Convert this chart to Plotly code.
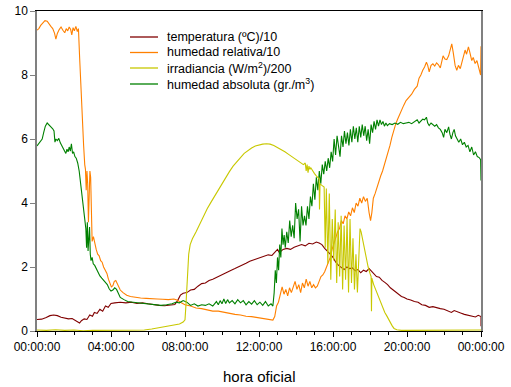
import plotly.graph_objects as go

# ---------------- data (hours of day, values) ----------------
tick_hours = [0, 4, 8, 12, 16, 20, 24]
tick_labels = ["00:00:00", "04:00:00", "08:00:00", "12:00:00", "16:00:00", "20:00:00", "00:00:00"]

temp_h = [0.00, 0.25, 0.50, 0.70, 0.90, 1.10, 1.30, 1.50, 1.70, 1.90, 2.05, 2.20, 2.30, 2.40, 2.55, 2.70, 2.85,
          3.00, 3.10, 3.25, 3.40, 3.55, 3.70, 3.85, 4.00, 4.20, 4.50, 4.80, 5.10, 5.40, 5.70, 6.00, 6.30, 6.60,
          6.90, 7.20, 7.45, 7.60, 7.75, 7.90, 8.10, 8.30, 8.50, 8.70, 8.90, 9.10, 9.30, 9.50, 9.70, 9.90, 10.10,
          10.30, 10.50, 10.70, 10.90, 11.10, 11.30, 11.50, 11.70, 11.90, 12.10, 12.30, 12.50, 12.70, 12.85, 13.00,
          13.10, 13.30, 13.50, 13.70, 13.90, 14.10, 14.30, 14.50, 14.70, 14.90, 15.10, 15.25, 15.40, 15.55, 15.70,
          15.85, 16.00, 16.15, 16.30, 16.45, 16.60, 16.75, 16.90, 17.05, 17.20, 17.35, 17.50, 17.65, 17.80, 17.95,
          18.05, 18.20, 18.35, 18.50, 18.65, 18.80, 18.95, 19.10, 19.25, 19.40, 19.55, 19.70, 19.85, 20.00, 20.20,
          20.40, 20.60, 20.80, 21.00, 21.20, 21.40, 21.60, 21.80, 22.00, 22.20, 22.40, 22.55, 22.70, 22.90, 23.10,
          23.30, 23.50, 23.70, 23.85, 23.95, 24.00, 24.00]
temp_v = [0.36, 0.37, 0.42, 0.48, 0.50, 0.48, 0.43, 0.41, 0.38, 0.39, 0.34, 0.30, 0.25, 0.32, 0.38, 0.36, 0.50,
          0.46, 0.58, 0.55, 0.68, 0.62, 0.78, 0.74, 0.86, 0.88, 0.90, 0.88, 0.90, 0.86, 0.88, 0.85, 0.82, 0.80,
          0.79, 0.80, 0.83, 0.95, 1.12, 1.18, 1.20, 1.28, 1.30, 1.40, 1.48, 1.50, 1.58, 1.62, 1.68, 1.72, 1.80,
          1.85, 1.90, 1.95, 2.00, 2.05, 2.12, 2.18, 2.22, 2.26, 2.30, 2.35, 2.38, 2.36, 2.45, 2.55,
          2.45, 2.55, 2.58, 2.55, 2.62, 2.65, 2.70, 2.66, 2.74, 2.72, 2.78, 2.75, 2.70, 2.58, 2.50,
          2.40, 2.30, 2.15, 2.05, 1.98, 1.92, 2.00, 1.95, 1.97, 1.88, 1.92, 1.82, 1.90, 1.86, 1.95,
          1.88, 1.78, 1.70, 1.68, 1.58, 1.52, 1.45, 1.35, 1.28, 1.20, 1.12, 1.08, 1.05, 1.00, 0.97,
          0.92, 0.90, 0.82, 0.80, 0.74, 0.76, 0.72, 0.70, 0.68, 0.62, 0.58, 0.64, 0.60, 0.56, 0.52,
          0.49, 0.46, 0.44, 0.49, 0.46, 0.45, 0.15]

hr_h = [0.00, 0.10, 0.20, 0.30, 0.43, 0.55, 0.65, 0.75, 0.85, 0.95, 1.02, 1.10, 1.20, 1.30, 1.40, 1.50, 1.58,
        1.66, 1.74, 1.82, 1.88, 1.95, 2.02, 2.10, 2.18, 2.24, 2.30, 2.38, 2.45, 2.52, 2.58, 2.62, 2.66, 2.70,
        2.74, 2.78, 2.82, 2.86, 2.90, 2.94, 2.98, 3.05, 3.12, 3.20, 3.28, 3.36, 3.44, 3.52, 3.60, 3.70, 3.78,
        3.86, 3.94, 4.02, 4.10, 4.18, 4.26, 4.34, 4.42, 4.50, 4.65, 4.85, 5.05, 5.30, 5.60, 5.90, 6.20, 6.50,
        6.80, 7.10, 7.40, 7.60, 7.80, 8.00, 8.30, 8.60, 8.90, 9.20, 9.50, 9.80, 10.10, 10.40, 10.70, 11.00,
        11.30, 11.60, 11.90, 12.20, 12.50, 12.75, 12.85, 12.95, 13.05, 13.15, 13.25, 13.35, 13.45, 13.55,
        13.65, 13.75, 13.85, 13.95, 14.05, 14.15, 14.25, 14.35, 14.45, 14.55, 14.65, 14.75, 14.85, 14.95,
        15.05, 15.15, 15.25, 15.35, 15.45, 15.55, 15.65, 15.75, 15.85, 15.95, 16.05, 16.15, 16.25, 16.35,
        16.45, 16.55, 16.65, 16.75, 16.85, 16.95, 17.05, 17.15, 17.25, 17.35, 17.45, 17.55, 17.65, 17.75,
        17.85, 17.95, 18.03, 18.10, 18.18, 18.28, 18.38, 18.48, 18.58, 18.68, 18.78, 18.88, 18.98, 19.08,
        19.18, 19.28, 19.38, 19.48, 19.58, 19.70, 19.82, 19.95, 20.10, 20.25, 20.40, 20.55, 20.65, 20.75,
        20.85, 20.95, 21.05, 21.12, 21.20, 21.30, 21.40, 21.50, 21.60, 21.70, 21.80, 21.88, 21.95, 22.05,
        22.15, 22.25, 22.35, 22.42, 22.50, 22.60, 22.69, 22.78, 22.88, 22.96, 23.05, 23.14, 23.22, 23.32,
        23.40, 23.50, 23.58, 23.68, 23.78, 23.88, 23.98, 24.00]
hr_v = [9.40, 9.45, 9.55, 9.62, 9.70, 9.68, 9.58, 9.52, 9.45, 9.30, 9.12, 9.30, 9.42, 9.50, 9.40, 9.32, 9.45,
        9.38, 9.50, 9.42, 9.25, 9.48, 9.38, 9.52, 9.36, 9.45, 8.60, 7.40, 6.60, 5.80, 5.20, 5.05, 4.40, 5.00,
        4.60, 3.40, 4.20, 5.00, 4.80, 3.30, 2.80, 2.95, 2.70, 2.55, 2.40, 2.35, 2.20, 2.15, 2.00, 1.90, 1.80,
        1.62, 1.48, 1.38, 1.42, 1.55, 1.58, 1.48, 1.35, 1.28, 1.20, 1.12, 1.08, 1.05, 1.03, 1.02, 1.00, 1.00,
        0.99, 0.98, 1.00, 0.96, 0.88, 0.82, 0.78, 0.72, 0.70, 0.66, 0.62, 0.62, 0.58, 0.54, 0.52, 0.50,
        0.46, 0.45, 0.42, 0.40, 0.38, 0.34, 0.45, 0.78, 0.90, 1.20, 1.38, 1.15, 1.30, 1.10,
        1.35, 1.20, 1.40, 1.55, 1.30, 1.45, 1.20, 1.50, 1.35, 1.62, 1.40, 1.55, 1.35, 1.45,
        1.35, 1.40, 1.55, 1.70, 1.75, 1.85, 2.00, 2.15, 2.30, 2.55, 2.75, 2.90, 3.10, 3.20,
        3.45, 3.35, 3.60, 3.50, 3.72, 3.60, 3.85, 3.70, 4.00, 3.90, 4.15, 4.00, 4.20, 4.05,
        4.15, 3.70, 3.45, 3.70, 4.15, 4.30, 4.50, 4.65, 4.85, 5.00, 5.20, 5.35, 5.55, 5.80,
        6.05, 6.30, 6.45, 6.60, 6.75, 6.90, 7.05, 7.20, 7.30, 7.40, 7.55, 7.65, 7.90, 8.00,
        8.15, 8.25, 8.40, 8.30, 8.10, 8.30, 8.35, 8.28, 8.38, 8.32, 8.22, 8.45, 8.60, 8.50,
        8.48, 8.60, 8.78, 8.97, 8.70, 8.30, 8.15, 8.30, 8.20, 8.40, 8.60, 8.78, 8.65, 8.88,
        8.70, 8.45, 8.55, 8.36, 8.45, 8.25, 8.00, 8.90]

irr_h = [0.00, 0.50, 1.00, 1.50, 2.00, 2.50, 3.00, 4.00, 5.00, 5.80, 6.20, 6.60, 7.00, 7.40, 7.70, 7.90, 8.00,
         8.05, 8.12, 8.20, 8.28, 8.40, 8.60, 8.80, 9.00, 9.20, 9.40, 9.60, 9.80, 10.00, 10.20, 10.40, 10.60,
         10.80, 11.00, 11.20, 11.40, 11.60, 11.80, 12.00, 12.20, 12.40, 12.60, 12.80, 13.00, 13.20, 13.40,
         13.60, 13.80, 14.00, 14.20, 14.40, 14.50, 14.55, 14.60, 14.65, 14.70, 14.75, 14.80, 14.90, 15.00,
         15.10, 15.20, 15.25, 15.27, 15.30, 15.40, 15.52, 15.58, 15.64, 15.72, 15.80, 15.88, 15.96, 16.04,
         16.12, 16.20, 16.28, 16.36, 16.44, 16.52, 16.60, 16.68, 16.76, 16.84, 16.92, 17.00, 17.08, 17.16,
         17.24, 17.32, 17.40, 17.46, 17.52, 17.60, 17.70,
         17.80, 17.90, 18.00, 18.06, 18.08, 18.10, 18.20, 18.30, 18.40, 18.50, 18.60, 18.70, 18.80, 18.90,
         19.00, 19.10, 19.20, 19.30, 19.45, 19.70, 20.00, 21.00, 22.00, 23.00, 24.00]
irr_v = [0.03, 0.02, 0.04, 0.02, 0.03, 0.01, 0.02, 0.02, 0.02, 0.03, 0.06, 0.10, 0.14, 0.18, 0.22, 0.28, 0.35,
         0.80, 1.70, 2.40, 2.70, 2.88, 3.10, 3.35, 3.60, 3.82, 4.02, 4.22, 4.42, 4.62, 4.80, 4.98, 5.15,
         5.30, 5.42, 5.55, 5.64, 5.72, 5.78, 5.82, 5.84, 5.85, 5.84, 5.80, 5.74, 5.68, 5.60,
         5.52, 5.44, 5.38, 5.30, 5.20, 5.25, 5.00, 5.20, 4.95, 5.15, 5.05, 5.10, 5.00, 4.92,
         4.85, 4.78, 4.75, 3.80, 4.60, 4.55, 4.50, 2.60, 4.45, 2.10, 4.30, 1.60, 3.50, 2.20,
         3.80, 1.50, 3.40, 1.70, 3.60, 1.30, 3.30, 1.60, 3.50, 1.20, 3.50, 1.50, 2.90, 1.30,
         2.40, 1.20, 2.60, 3.20, 3.10, 2.85, 2.55,
         2.25, 2.00, 1.80, 1.70, 0.62, 1.65, 1.45, 1.30, 1.15, 1.00, 0.85, 0.70, 0.58, 0.48,
         0.36, 0.25, 0.16, 0.08, 0.04, 0.02, 0.02, 0.04, 0.03, 0.04, 0.03]

ha_h = [0.00, 0.10, 0.20, 0.28, 0.36, 0.45, 0.55, 0.65, 0.75, 0.85, 0.92, 0.97, 1.02, 1.10, 1.18, 1.26, 1.34,
        1.42, 1.50, 1.56, 1.62, 1.68, 1.74, 1.80, 1.86, 1.92, 1.98, 2.05, 2.12, 2.20, 2.28, 2.36, 2.44, 2.52,
        2.58, 2.64, 2.68, 2.72, 2.76, 2.80, 2.84, 2.88, 2.92, 2.98, 3.04, 3.12, 3.20, 3.30, 3.40, 3.50, 3.60,
        3.70, 3.80, 3.90, 4.00, 4.10, 4.20, 4.30, 4.40, 4.50, 4.70, 4.90, 5.20, 5.50, 5.80, 6.10, 6.40, 6.70,
        7.00, 7.30, 7.50, 7.70, 7.90, 8.10, 8.30, 8.50, 8.70, 8.90, 9.10, 9.30, 9.50, 9.70, 9.80, 9.90, 10.00,
        10.10, 10.20, 10.30, 10.40, 10.55, 10.70, 10.85, 11.00, 11.15, 11.30, 11.45, 11.60, 11.75, 11.90,
        12.05, 12.20, 12.35, 12.50, 12.65, 12.75, 12.82, 12.88, 12.94, 13.00, 13.06, 13.12, 13.18, 13.24,
        13.30, 13.36, 13.42, 13.50, 13.58, 13.66, 13.74, 13.82, 13.90, 13.98, 14.06, 14.14, 14.22, 14.30,
        14.38, 14.46, 14.54, 14.62, 14.70, 14.78, 14.86, 14.94, 15.02, 15.10, 15.18, 15.26, 15.34, 15.42,
        15.50, 15.58, 15.66, 15.74, 15.82, 15.90, 15.98, 16.06, 16.14, 16.22, 16.30, 16.38, 16.46, 16.54,
        16.62, 16.70, 16.78, 16.86, 16.94, 17.02, 17.10, 17.18, 17.26, 17.34, 17.42, 17.50, 17.58, 17.66,
        17.74, 17.82, 17.90, 17.98, 18.06, 18.14, 18.22, 18.30, 18.38, 18.46, 18.54, 18.62, 18.70, 18.78,
        18.86, 18.94, 19.05, 19.20, 19.35, 19.50, 19.65, 19.80, 19.95, 20.10, 20.25, 20.40, 20.55, 20.65,
        20.75, 20.85, 20.95, 21.05, 21.12, 21.20, 21.30, 21.40, 21.50, 21.60, 21.70, 21.80, 21.90, 21.98,
        22.05, 22.15, 22.25, 22.32, 22.40, 22.48, 22.55, 22.62, 22.70, 22.80, 22.90, 23.00, 23.10, 23.20,
        23.30, 23.40, 23.50, 23.60, 23.70, 23.80, 23.90, 23.98, 24.00]
ha_v = [5.78, 5.85, 5.95, 6.00, 6.20, 6.40, 6.50, 6.42, 6.38, 6.32, 6.25, 5.90, 6.00, 5.95, 6.02, 5.88, 5.80,
        5.70, 5.62, 5.55, 5.68, 5.60, 5.75, 5.62, 5.85, 5.55, 5.60, 5.45, 5.40, 5.25, 5.00, 4.60, 4.20, 3.80,
        3.50, 3.20, 2.60, 3.40, 2.50, 3.00, 3.25, 2.40, 2.20, 2.30, 2.10, 2.05, 1.95, 1.85, 1.72, 1.65, 1.58,
        1.52, 1.45, 1.32, 1.25, 1.28, 1.35, 1.30, 1.15, 1.05, 0.98, 0.92, 0.90, 0.88, 0.85, 0.82, 0.81, 0.80,
        0.82, 0.85, 0.90, 0.88, 0.95, 0.90, 0.80, 0.85, 0.78, 0.82, 0.80, 0.85, 0.78, 0.92, 0.82, 0.95, 0.85,
        1.00, 0.86, 0.98, 0.88, 0.95, 0.85, 0.98, 0.88, 0.95, 0.82, 0.92, 0.84, 0.95, 0.82,
        0.90, 0.80, 0.92, 0.78, 0.85, 0.78, 1.20, 1.90, 1.50, 2.30, 1.90, 2.70, 2.30, 3.20,
        2.70, 3.00, 2.60, 3.10, 2.75, 3.45, 2.95, 3.30, 2.90, 4.00, 3.50, 3.80, 2.80, 3.90,
        3.30, 3.60, 3.30, 3.90, 3.50, 4.20, 3.90, 4.60, 4.10, 4.80, 4.40, 5.00, 4.60, 5.20,
        4.90, 5.30, 5.00, 5.40, 5.10, 5.60, 5.30, 6.00, 5.50, 6.10, 5.70, 5.45, 6.10, 5.75,
        6.25, 5.85, 6.20, 5.80, 6.30, 5.90, 6.40, 6.00, 6.35, 5.90, 6.40, 6.05, 6.45, 6.10,
        6.40, 5.95, 6.30, 5.85, 6.45, 6.20, 6.55, 6.30, 6.60, 6.40, 6.60, 6.45, 6.55, 6.40,
        6.50, 6.42, 6.48, 6.45, 6.50, 6.46, 6.52, 6.48, 6.50, 6.52, 6.48, 6.55, 6.60, 6.50,
        6.55, 6.62, 6.60, 6.68, 6.50, 6.42, 6.50, 6.45, 6.40, 6.45, 6.35, 6.30, 6.20, 6.05,
        6.30, 6.20, 6.38, 6.15, 6.00, 6.20, 6.30, 6.10, 6.00, 5.90, 6.00, 5.82, 5.90, 5.75,
        5.80, 5.60, 5.75, 5.50, 5.60, 5.45, 5.42, 5.35, 4.70]

names = ["temperatura (ºC)/10", "humedad relativa/10",
         "irradiancia (W/m<sup>2</sup>)/200", "humedad absoluta (gr./m<sup>3</sup>)"]
colors = ["#800000", "#FF8000", "#C8C800", "#008000"]

fig = go.Figure()
series = [(temp_h, temp_v, 0), (hr_h, hr_v, 1), (ha_h, ha_v, 3), (irr_h, irr_v, 2)]
for hx, vy, idx in series:
    fig.add_trace(go.Scatter(x=hx, y=vy, mode="lines", name=names[idx], showlegend=False,
                             line=dict(color=colors[idx], width=1.1)))

# ---- legend drawn as key lines + labels (tighter row spacing than plotly's legend) ----
PLOT_L, PLOT_R, PLOT_T, PLOT_B = 37, 481, 11, 331
def px_x(p):
    return (p - PLOT_L) / (PLOT_R - PLOT_L)
def px_y(p):
    return (PLOT_B - p) / (PLOT_B - PLOT_T)

legend_rows = [37, 52.5, 68, 84]
shapes = []
annotations = []
for i, row in enumerate(legend_rows):
    shapes.append(dict(type="line", xref="paper", yref="paper",
                       x0=px_x(130), x1=px_x(158), y0=px_y(row), y1=px_y(row),
                       line=dict(color=colors[i], width=1.3)))
    annotations.append(dict(xref="paper", yref="paper", x=px_x(165), y=px_y(row),
                            xanchor="left", yanchor="middle", showarrow=False,
                            text=names[i], font=dict(size=12.5, color="black")))
annotations.append(dict(xref="paper", yref="paper", x=0.5, y=px_y(376), xanchor="center",
                        yanchor="middle", showarrow=False, text="hora oficial",
                        font=dict(size=15, color="black")))

fig.update_layout(
    width=511, height=387,
    margin=dict(l=PLOT_L, r=511 - PLOT_R, t=PLOT_T, b=387 - PLOT_B),
    plot_bgcolor="white", paper_bgcolor="white",
    font=dict(family="Liberation Sans, Arial, sans-serif", size=12, color="black"),
    showlegend=False,
    shapes=shapes,
    annotations=annotations,
)
fig.update_xaxes(range=[0, 24], tickvals=tick_hours, ticktext=tick_labels, automargin=False,
                 ticks="outside", ticklen=5, tickcolor="black", showline=True, linecolor="black",
                 linewidth=1, mirror=True, showgrid=False, zeroline=False,
                 minor=dict(tickvals=list(range(25)), ticks="outside", ticklen=3, tickcolor="black"))
fig.update_yaxes(range=[0, 10], dtick=2, ticks="outside", ticklen=5, tickcolor="#808080", automargin=False,
                 showline=True, linecolor="#808080", linewidth=1.5, mirror=True,
                 showgrid=False, zeroline=False)

fig.write_html("out.html")
